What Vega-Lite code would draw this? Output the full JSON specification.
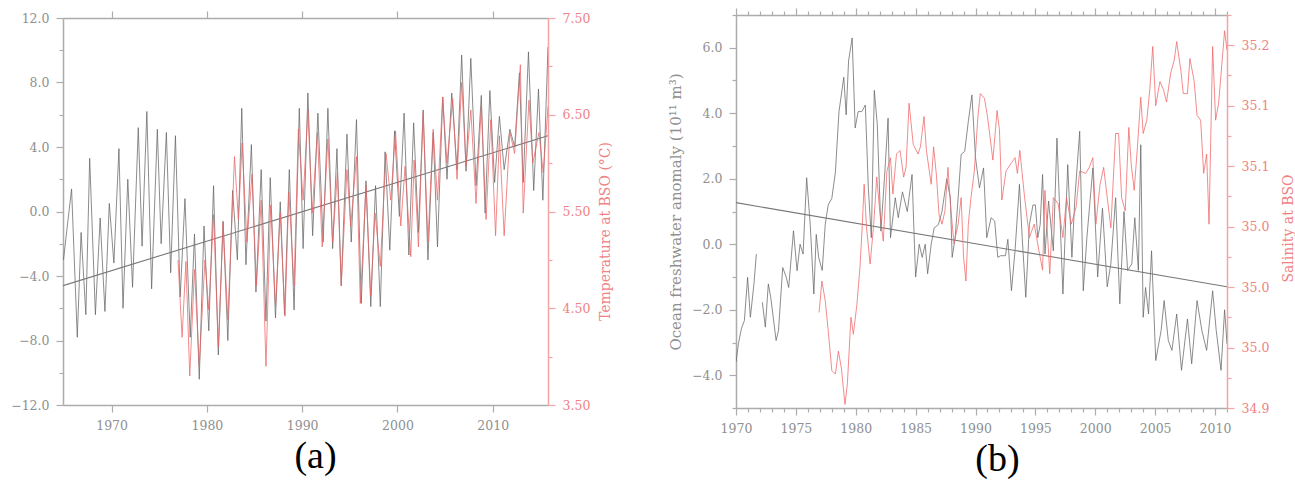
{
  "$schema": "https://vega.github.io/schema/vega-lite/v6.json",
  "background": "white",
  "padding": {"left": 10, "top": 7, "right": 0, "bottom": 0},
  "spacing": 188,
  "bounds": "flush",
  "center": true,
  "datasets": {
    "heat": [
      {"year":1964.95,"v":-3.0},{"year":1965.8,"v":1.4},{"year":1966.4,"v":-7.8},{"year":1966.8,"v":-1.3},{"year":1967.3,"v":-6.4},{"year":1967.7,"v":3.3},{"year":1968.3,"v":-6.4},{"year":1968.8,"v":-0.4},{"year":1969.3,"v":-6.2},{"year":1969.76,"v":0.5},{"year":1970.24,"v":-3.2},{"year":1970.77,"v":3.9},{"year":1971.2,"v":-6.0},{"year":1971.7,"v":2.0},{"year":1972.2,"v":-4.7},{"year":1972.8,"v":5.2},{"year":1973.2,"v":-2.15},{"year":1973.7,"v":6.2},{"year":1974.2,"v":-4.8},{"year":1974.8,"v":5.1},{"year":1975.2,"v":-2.0},{"year":1975.75,"v":4.9},{"year":1976.2,"v":-3.8},{"year":1976.7,"v":4.7},{"year":1977.2,"v":-5.3},{"year":1977.7,"v":0.8},{"year":1978.25,"v":-7.8},{"year":1978.7,"v":-1.4},{"year":1979.2,"v":-10.4},{"year":1979.7,"v":-0.9},{"year":1980.2,"v":-7.4},{"year":1980.7,"v":1.6},{"year":1981.2,"v":-8.9},{"year":1981.7,"v":-0.6},{"year":1982.2,"v":-8.0},{"year":1982.7,"v":1.3},{"year":1983.2,"v":-3.0},{"year":1983.66,"v":6.4},{"year":1984.1,"v":-3.3},{"year":1984.67,"v":4.15},{"year":1985.15,"v":-5.0},{"year":1985.7,"v":2.6},{"year":1986.2,"v":-6.8},{"year":1986.65,"v":2.1},{"year":1987.2,"v":-6.6},{"year":1987.7,"v":0.6},{"year":1988.15,"v":-6.4},{"year":1988.65,"v":2.6},{"year":1989.15,"v":-6.1},{"year":1989.7,"v":6.4},{"year":1990.1,"v":-2.3},{"year":1990.6,"v":7.35},{"year":1991.1,"v":-1.5},{"year":1991.65,"v":6.1},{"year":1992.2,"v":-1.9},{"year":1992.7,"v":6.4},{"year":1993.2,"v":-2.3},{"year":1993.65,"v":3.9},{"year":1994.1,"v":-4.6},{"year":1994.7,"v":4.8},{"year":1995.15,"v":-1.9},{"year":1995.7,"v":5.7},{"year":1996.2,"v":-5.7},{"year":1996.7,"v":1.9},{"year":1997.2,"v":-5.9},{"year":1997.7,"v":1.6},{"year":1998.2,"v":-5.9},{"year":1998.7,"v":3.7},{"year":1999.2,"v":-2.4},{"year":1999.7,"v":5.0},{"year":2000.2,"v":-0.3},{"year":2000.7,"v":6.1},{"year":2001.2,"v":-2.7},{"year":2001.7,"v":5.5},{"year":2002.2,"v":-1.3},{"year":2002.7,"v":6.3},{"year":2003.2,"v":-3.0},{"year":2003.75,"v":4.9},{"year":2004.2,"v":-2.2},{"year":2004.75,"v":7.1},{"year":2005.2,"v":2.0},{"year":2005.7,"v":7.35},{"year":2006.25,"v":2.6},{"year":2006.74,"v":9.7},{"year":2007.2,"v":2.5},{"year":2007.7,"v":9.5},{"year":2008.25,"v":1.6},{"year":2008.8,"v":7.2},{"year":2009.2,"v":-0.1},{"year":2009.7,"v":7.5},{"year":2010.2,"v":1.8},{"year":2010.7,"v":5.9},{"year":2011.2,"v":2.6},{"year":2011.8,"v":5.1},{"year":2012.3,"v":4.0},{"year":2012.8,"v":8.6},{"year":2013.2,"v":1.8},{"year":2013.75,"v":9.9},{"year":2014.3,"v":1.3},{"year":2014.8,"v":7.6},{"year":2015.26,"v":0.7},{"year":2015.8,"v":10.2}
    ],
    "heat_trend": [{"year":1964.9,"v":-4.6},{"year":2015.8,"v":4.7}],
    "temp": [
      {"year":1976.97,"t":5.0},{"year":1977.4,"t":4.2},{"year":1977.8,"t":4.983},{"year":1978.2,"t":3.8},{"year":1978.7,"t":4.9},{"year":1979.2,"t":3.9},{"year":1979.8,"t":5.0},{"year":1980.2,"t":4.483},{"year":1980.7,"t":5.467},{"year":1981.2,"t":4.1},{"year":1981.7,"t":5.383},{"year":1982.2,"t":4.383},{"year":1982.9,"t":6.067},{"year":1983.3,"t":5.417},{"year":1983.7,"t":6.208},{"year":1984.2,"t":5.183},{"year":1984.74,"t":5.883},{"year":1985.2,"t":4.733},{"year":1985.7,"t":5.617},{"year":1986.2,"t":3.9},{"year":1986.7,"t":5.567},{"year":1987.2,"t":4.517},{"year":1987.7,"t":5.483},{"year":1988.2,"t":4.417},{"year":1988.6,"t":5.7},{"year":1989.15,"t":4.733},{"year":1989.6,"t":6.35},{"year":1990.1,"t":5.617},{"year":1990.6,"t":6.55},{"year":1991.05,"t":5.483},{"year":1991.6,"t":6.317},{"year":1992.1,"t":5.133},{"year":1992.7,"t":6.25},{"year":1993.2,"t":5.183},{"year":1993.7,"t":5.9},{"year":1994.1,"t":4.733},{"year":1994.7,"t":5.933},{"year":1995.1,"t":5.35},{"year":1995.7,"t":6.067},{"year":1996.1,"t":4.55},{"year":1996.7,"t":5.767},{"year":1997.2,"t":4.625},{"year":1997.65,"t":5.483},{"year":1998.2,"t":4.933},{"year":1998.8,"t":6.1},{"year":1999.3,"t":5.617},{"year":1999.8,"t":6.333},{"year":2000.35,"t":5.35},{"year":2000.8,"t":5.967},{"year":2001.4,"t":5.033},{"year":2001.75,"t":6.033},{"year":2002.2,"t":5.133},{"year":2002.7,"t":6.517},{"year":2003.2,"t":5.183},{"year":2003.75,"t":6.35},{"year":2004.2,"t":5.617},{"year":2004.75,"t":6.683},{"year":2005.2,"t":6.0},{"year":2005.8,"t":6.667},{"year":2006.25,"t":5.833},{"year":2006.74,"t":6.833},{"year":2007.2,"t":5.967},{"year":2007.7,"t":6.55},{"year":2008.25,"t":5.583},{"year":2008.8,"t":6.583},{"year":2009.3,"t":5.417},{"year":2009.8,"t":6.45},{"year":2010.3,"t":5.25},{"year":2010.7,"t":6.283},{"year":2011.2,"t":5.25},{"year":2011.8,"t":6.317},{"year":2012.3,"t":6.1},{"year":2012.9,"t":7.017},{"year":2013.2,"t":5.483},{"year":2013.8,"t":6.65},{"year":2014.2,"t":6.0},{"year":2014.85,"t":6.317},{"year":2015.3,"t":5.9},{"year":2015.8,"t":6.583}
    ],
    "fw": [
      {"year":1970.0,"v":-3.6,"seg":1},{"year":1970.2,"v":-3.04,"seg":1},{"year":1970.45,"v":-2.58,"seg":1},{"year":1970.7,"v":-2.33,"seg":1},{"year":1970.97,"v":-1.01,"seg":1},{"year":1971.2,"v":-2.23,"seg":1},{"year":1971.5,"v":-1.21,"seg":1},{"year":1971.7,"v":-0.3,"seg":1},
      {"year":1972.2,"v":-1.77,"seg":2},{"year":1972.45,"v":-2.53,"seg":2},{"year":1972.7,"v":-1.21,"seg":2},{"year":1972.9,"v":-1.62,"seg":2},{"year":1973.35,"v":-2.94,"seg":2},{"year":1973.55,"v":-2.63,"seg":2},{"year":1973.9,"v":-0.71,"seg":2},{"year":1974.2,"v":-1.01,"seg":2},{"year":1974.4,"v":-1.32,"seg":2},{"year":1974.8,"v":0.41,"seg":2},{"year":1975.1,"v":-0.81,"seg":2},{"year":1975.35,"v":0.0,"seg":2},{"year":1975.6,"v":-0.3,"seg":2},{"year":1975.9,"v":2.03,"seg":2},{"year":1976.2,"v":0.6,"seg":2},{"year":1976.5,"v":-1.52,"seg":2},{"year":1976.7,"v":0.3,"seg":2},{"year":1976.9,"v":-0.4,"seg":2},{"year":1977.2,"v":-0.8,"seg":2},{"year":1977.45,"v":0.6,"seg":2},{"year":1977.7,"v":1.2,"seg":2},{"year":1978.0,"v":1.4,"seg":2},{"year":1978.3,"v":2.2,"seg":2},{"year":1978.6,"v":4.05,"seg":2},{"year":1979.0,"v":5.1,"seg":2},{"year":1979.2,"v":3.95,"seg":2},{"year":1979.4,"v":5.6,"seg":2},{"year":1979.7,"v":6.3,"seg":2},{"year":1979.95,"v":3.55,"seg":2},{"year":1980.2,"v":4.05,"seg":2},{"year":1980.5,"v":4.05,"seg":2},{"year":1980.8,"v":4.25,"seg":2},{"year":1981.05,"v":1.72,"seg":2},{"year":1981.3,"v":0.2,"seg":2},{"year":1981.55,"v":4.7,"seg":2},{"year":1981.8,"v":3.65,"seg":2},{"year":1982.1,"v":0.4,"seg":2},{"year":1982.4,"v":2.03,"seg":2},{"year":1982.7,"v":3.85,"seg":2},{"year":1982.9,"v":0.2,"seg":2},{"year":1983.3,"v":1.42,"seg":2},{"year":1983.55,"v":0.81,"seg":2},{"year":1983.9,"v":1.6,"seg":2},{"year":1984.3,"v":1.0,"seg":2},{"year":1984.7,"v":2.13,"seg":2},{"year":1984.9,"v":0.0,"seg":2},{"year":1985.0,"v":-1.0,"seg":2},{"year":1985.3,"v":0.0,"seg":2},{"year":1985.55,"v":-0.4,"seg":2},{"year":1985.8,"v":0.0,"seg":2},{"year":1986.0,"v":-0.9,"seg":2},{"year":1986.3,"v":0.0,"seg":2},{"year":1986.55,"v":0.5,"seg":2},{"year":1986.9,"v":0.6,"seg":2},{"year":1987.2,"v":1.0,"seg":2},{"year":1987.6,"v":2.0,"seg":2},{"year":1987.9,"v":1.42,"seg":2},{"year":1988.05,"v":-0.4,"seg":2},{"year":1988.3,"v":0.2,"seg":2},{"year":1988.55,"v":1.42,"seg":2},{"year":1988.8,"v":2.74,"seg":2},{"year":1989.1,"v":2.84,"seg":2},{"year":1989.4,"v":3.75,"seg":2},{"year":1989.7,"v":4.56,"seg":2},{"year":1990.0,"v":2.64,"seg":2},{"year":1990.33,"v":1.72,"seg":2},{"year":1990.67,"v":2.33,"seg":2},{"year":1990.94,"v":0.2,"seg":2},{"year":1991.3,"v":0.81,"seg":2},{"year":1991.6,"v":0.71,"seg":2},{"year":1991.86,"v":-0.4,"seg":2},{"year":1992.1,"v":-0.35,"seg":2},{"year":1992.5,"v":-0.35,"seg":2},{"year":1992.7,"v":0.15,"seg":2},{"year":1993.0,"v":-1.42,"seg":2},{"year":1993.3,"v":-0.2,"seg":2},{"year":1993.67,"v":1.83,"seg":2},{"year":1993.9,"v":0.2,"seg":2},{"year":1994.2,"v":-1.62,"seg":2},{"year":1994.5,"v":0.6,"seg":2},{"year":1994.8,"v":1.2,"seg":2},{"year":1995.0,"v":1.2,"seg":2},{"year":1995.2,"v":0.2,"seg":2},{"year":1995.4,"v":0.6,"seg":2},{"year":1995.6,"v":2.13,"seg":2},{"year":1995.8,"v":-0.3,"seg":2},{"year":1996.1,"v":1.32,"seg":2},{"year":1996.5,"v":-0.2,"seg":2},{"year":1996.8,"v":3.24,"seg":2},{"year":1997.3,"v":-1.52,"seg":2},{"year":1997.7,"v":2.43,"seg":2},{"year":1998.05,"v":-0.4,"seg":2},{"year":1998.3,"v":1.42,"seg":2},{"year":1998.7,"v":3.45,"seg":2},{"year":1999.0,"v":-1.42,"seg":2},{"year":1999.3,"v":0.2,"seg":2},{"year":1999.8,"v":2.33,"seg":2},{"year":2000.2,"v":-1.0,"seg":2},{"year":2000.6,"v":1.1,"seg":2},{"year":2001.0,"v":-1.3,"seg":2},{"year":2001.3,"v":-0.6,"seg":2},{"year":2001.7,"v":1.42,"seg":2},{"year":2002.05,"v":-1.82,"seg":2},{"year":2002.4,"v":1.0,"seg":2},{"year":2002.7,"v":-0.8,"seg":2},{"year":2003.05,"v":-0.6,"seg":2},{"year":2003.3,"v":0.81,"seg":2},{"year":2003.6,"v":-0.8,"seg":2},{"year":2003.8,"v":3.04,"seg":2},{"year":2004.0,"v":-2.23,"seg":2},{"year":2004.2,"v":-1.32,"seg":2},{"year":2004.45,"v":-2.13,"seg":2},{"year":2004.7,"v":-0.2,"seg":2},{"year":2005.05,"v":-3.55,"seg":2},{"year":2005.5,"v":-2.63,"seg":2},{"year":2005.75,"v":-1.72,"seg":2},{"year":2006.1,"v":-2.94,"seg":2},{"year":2006.4,"v":-3.24,"seg":2},{"year":2006.8,"v":-2.13,"seg":2},{"year":2007.2,"v":-3.85,"seg":2},{"year":2007.7,"v":-2.28,"seg":2},{"year":2008.05,"v":-3.65,"seg":2},{"year":2008.5,"v":-1.72,"seg":2},{"year":2008.9,"v":-2.63,"seg":2},{"year":2009.3,"v":-3.24,"seg":2},{"year":2009.8,"v":-1.42,"seg":2},{"year":2010.1,"v":-2.63,"seg":2},{"year":2010.5,"v":-3.85,"seg":2},{"year":2010.8,"v":-2.0,"seg":2},{"year":2011.0,"v":-3.04,"seg":2}
    ],
    "fw_trend": [{"year":1970,"v":1.27},{"year":2011,"v":-1.3}],
    "sal": [
      {"year":1976.94,"s":34.979},{"year":1977.17,"s":35.005},{"year":1977.45,"s":34.989},{"year":1977.7,"s":34.964},{"year":1978.0,"s":34.931},{"year":1978.3,"s":34.928},{"year":1978.55,"s":34.947},{"year":1978.8,"s":34.933},{"year":1979.1,"s":34.903},{"year":1979.3,"s":34.92},{"year":1979.6,"s":34.975},{"year":1979.8,"s":34.961},{"year":1980.1,"s":34.986},{"year":1980.35,"s":35.016},{"year":1980.55,"s":35.052},{"year":1980.7,"s":35.085},{"year":1980.9,"s":35.049},{"year":1981.2,"s":35.019},{"year":1981.5,"s":35.052},{"year":1981.75,"s":35.091},{"year":1982.0,"s":35.063},{"year":1982.3,"s":35.038},{"year":1982.6,"s":35.096},{"year":1982.9,"s":35.107},{"year":1983.1,"s":35.077},{"year":1983.4,"s":35.11},{"year":1983.7,"s":35.113},{"year":1984.0,"s":35.091},{"year":1984.2,"s":35.099},{"year":1984.45,"s":35.152},{"year":1984.8,"s":35.118},{"year":1985.2,"s":35.11},{"year":1985.4,"s":35.116},{"year":1985.7,"s":35.141},{"year":1985.9,"s":35.113},{"year":1986.3,"s":35.085},{"year":1986.5,"s":35.116},{"year":1986.75,"s":35.091},{"year":1986.95,"s":35.06},{"year":1987.2,"s":35.052},{"year":1987.45,"s":35.063},{"year":1987.7,"s":35.099},{"year":1987.9,"s":35.069},{"year":1988.2,"s":35.036},{"year":1988.55,"s":35.052},{"year":1988.8,"s":35.074},{"year":1989.0,"s":35.025},{"year":1989.2,"s":35.005},{"year":1989.4,"s":35.052},{"year":1989.6,"s":35.072},{"year":1989.9,"s":35.096},{"year":1990.2,"s":35.141},{"year":1990.4,"s":35.16},{"year":1990.75,"s":35.156},{"year":1991.0,"s":35.141},{"year":1991.45,"s":35.105},{"year":1991.8,"s":35.146},{"year":1992.0,"s":35.13},{"year":1992.2,"s":35.072},{"year":1992.55,"s":35.096},{"year":1992.95,"s":35.102},{"year":1993.3,"s":35.107},{"year":1993.5,"s":35.094},{"year":1993.7,"s":35.113},{"year":1994.1,"s":35.074},{"year":1994.5,"s":35.041},{"year":1994.9,"s":35.052},{"year":1995.3,"s":35.03},{"year":1995.6,"s":35.014},{"year":1995.8,"s":35.08},{"year":1996.2,"s":35.011},{"year":1996.5,"s":35.074},{"year":1996.9,"s":35.069},{"year":1997.3,"s":35.041},{"year":1997.6,"s":35.074},{"year":1998.0,"s":35.052},{"year":1998.4,"s":35.066},{"year":1998.7,"s":35.096},{"year":1999.2,"s":35.094},{"year":1999.5,"s":35.099},{"year":1999.8,"s":35.107},{"year":2000.05,"s":35.052},{"year":2000.4,"s":35.085},{"year":2000.7,"s":35.099},{"year":2001.0,"s":35.074},{"year":2001.3,"s":35.049},{"year":2001.7,"s":35.127},{"year":2001.95,"s":35.127},{"year":2002.2,"s":35.074},{"year":2002.5,"s":35.063},{"year":2002.8,"s":35.132},{"year":2003.0,"s":35.102},{"year":2003.25,"s":35.08},{"year":2003.5,"s":35.113},{"year":2003.8,"s":35.157},{"year":2004.0,"s":35.127},{"year":2004.3,"s":35.138},{"year":2004.55,"s":35.163},{"year":2004.8,"s":35.199},{"year":2005.05,"s":35.15},{"year":2005.4,"s":35.17},{"year":2005.7,"s":35.163},{"year":2005.95,"s":35.153},{"year":2006.3,"s":35.177},{"year":2006.6,"s":35.188},{"year":2006.8,"s":35.203},{"year":2007.15,"s":35.179},{"year":2007.35,"s":35.16},{"year":2007.7,"s":35.16},{"year":2007.9,"s":35.189},{"year":2008.25,"s":35.171},{"year":2008.5,"s":35.142},{"year":2008.8,"s":35.138},{"year":2009.05,"s":35.094},{"year":2009.3,"s":35.11},{"year":2009.5,"s":35.052},{"year":2009.8,"s":35.199},{"year":2010.05,"s":35.138},{"year":2010.3,"s":35.152},{"year":2010.55,"s":35.182},{"year":2010.8,"s":35.212},{"year":2011.0,"s":35.196}
    ]
  },
  "hconcat": [
    {
      "width": 485,
      "height": 387,
      "title": {"text": "(a)", "orient": "bottom", "font": "Liberation Serif", "fontSize": 38, "fontWeight": "normal", "color": "#000000", "anchor": "middle", "dx": 10, "offset": 6},
      "layer": [
        {
          "layer": [
            {
              "data": {"name": "heat"},
              "mark": {"type": "line", "color": "#666666", "strokeWidth": 0.75, "clip": true},
              "encoding": {
                "x": {"field": "year", "type": "quantitative", "scale": {"domain": [1964.9, 2015.8], "nice": false, "zero": false},
                  "axis": {"orient": "bottom", "values": [1970, 1980, 1990, 2000, 2010], "format": "d", "title": null, "tickSize": 7}},
                "y": {"field": "v", "type": "quantitative", "scale": {"domain": [-12, 12], "nice": false},
                  "axis": {"orient": "left", "title": null, "values": [-12, -10, -8, -6, -4, -2, 0, 2, 4, 6, 8, 10, 12],
                    "labelExpr": "datum.value % 4 === 0 ? format(datum.value, '.1f') : ''",
                    "tickSize": {"condition": {"test": "datum.value % 4 === 0", "value": 7}, "value": 4}}}
              }
            },
            {
              "data": {"name": "heat_trend"},
              "mark": {"type": "line", "color": "#777777", "strokeWidth": 1.1, "clip": true},
              "encoding": {
                "x": {"field": "year", "type": "quantitative", "scale": {"domain": [1964.9, 2015.8], "nice": false, "zero": false},
                  "axis": {"orient": "top", "values": [1970, 1980, 1990, 2000, 2010], "labels": false, "title": null, "tickSize": 7}},
                "y": {"field": "v", "type": "quantitative", "scale": {"domain": [-12, 12], "nice": false},
                  "axis": {"orient": "left", "title": null, "values": [-12, -10, -8, -6, -4, -2, 0, 2, 4, 6, 8, 10, 12],
                    "labelExpr": "datum.value % 4 === 0 ? format(datum.value, '.1f') : ''",
                    "tickSize": {"condition": {"test": "datum.value % 4 === 0", "value": 7}, "value": 4}}}
              }
            }
          ],
          "resolve": {"axis": {"x": "independent"}}
        },
        {
          "data": {"name": "temp"},
          "mark": {"type": "line", "color": "#ec6466", "strokeWidth": 0.75, "clip": true},
          "encoding": {
            "x": {"field": "year", "type": "quantitative", "scale": {"domain": [1964.9, 2015.8], "nice": false, "zero": false}, "axis": null},
            "y": {"field": "t", "type": "quantitative", "scale": {"domain": [3.5, 7.5], "nice": false, "zero": false},
              "axis": {"orient": "right", "title": "Temperature at BSO (°C)", "titleAngle": 270, "titleY": 213, "titleX": 57, "titleBaseline": "middle", "titleAlign": "center",
                "values": [3.5, 4, 4.5, 5, 5.5, 6, 6.5, 7, 7.5],
                "labelExpr": "(datum.value * 2) % 2 === 1 ? format(datum.value, '.2f') : ''",
                "tickSize": {"condition": {"test": "(datum.value * 2) % 2 === 1", "value": 7}, "value": 4},
                "domainColor": "#f4a4a4", "tickColor": "#f4a4a4", "labelColor": "#f08284", "titleColor": "#f08284"}}
          }
        }
      ],
      "resolve": {"scale": {"y": "independent"}, "axis": {"x": "independent"}}
    },
    {
      "width": 491,
      "height": 393,
      "title": {"text": "(b)", "orient": "bottom", "font": "Liberation Serif", "fontSize": 38, "fontWeight": "normal", "color": "#000000", "anchor": "middle", "dx": 16, "offset": 6},
      "layer": [
        {
          "layer": [
            {
              "data": {"name": "fw"},
              "mark": {"type": "line", "color": "#666666", "strokeWidth": 0.75, "clip": true},
              "encoding": {
                "x": {"field": "year", "type": "quantitative", "scale": {"domain": [1970, 2011], "nice": false, "zero": false},
                  "axis": {"orient": "bottom", "title": null,
                    "values": [1970,1971,1972,1973,1974,1975,1976,1977,1978,1979,1980,1981,1982,1983,1984,1985,1986,1987,1988,1989,1990,1991,1992,1993,1994,1995,1996,1997,1998,1999,2000,2001,2002,2003,2004,2005,2006,2007,2008,2009,2010,2011],
                    "labelExpr": "datum.value % 5 === 0 ? format(datum.value, 'd') : ''",
                    "tickSize": {"condition": {"test": "datum.value % 5 === 0", "value": 7}, "value": 4}}},
                "y": {"field": "v", "type": "quantitative", "scale": {"domain": [-5, 7], "nice": false},
                  "axis": {"orient": "left", "title": "Ocean freshwater anomaly (10¹¹ m³)", "titleFontSize": 15,
                    "values": [-5, -4, -3, -2, -1, 0, 1, 2, 3, 4, 5, 6, 7],
                    "labelExpr": "datum.value % 2 === 0 ? format(datum.value, '.1f') : ''",
                    "tickSize": {"condition": {"test": "datum.value % 2 === 0", "value": 7}, "value": 4}}},
                "detail": {"field": "seg", "type": "nominal"}
              }
            },
            {
              "data": {"name": "fw_trend"},
              "mark": {"type": "line", "color": "#777777", "strokeWidth": 1.1, "clip": true},
              "encoding": {
                "x": {"field": "year", "type": "quantitative", "scale": {"domain": [1970, 2011], "nice": false, "zero": false},
                  "axis": {"orient": "top", "title": null, "labels": false,
                    "values": [1970,1971,1972,1973,1974,1975,1976,1977,1978,1979,1980,1981,1982,1983,1984,1985,1986,1987,1988,1989,1990,1991,1992,1993,1994,1995,1996,1997,1998,1999,2000,2001,2002,2003,2004,2005,2006,2007,2008,2009,2010,2011],
                    "tickSize": {"condition": {"test": "datum.value % 5 === 0", "value": 7}, "value": 4}}},
                "y": {"field": "v", "type": "quantitative", "scale": {"domain": [-5, 7], "nice": false},
                  "axis": {"orient": "left", "title": "Ocean freshwater anomaly (10¹¹ m³)", "titleFontSize": 15,
                    "values": [-5, -4, -3, -2, -1, 0, 1, 2, 3, 4, 5, 6, 7],
                    "labelExpr": "datum.value % 2 === 0 ? format(datum.value, '.1f') : ''",
                    "tickSize": {"condition": {"test": "datum.value % 2 === 0", "value": 7}, "value": 4}}}
              }
            }
          ],
          "resolve": {"axis": {"x": "independent"}}
        },
        {
          "data": {"name": "sal"},
          "mark": {"type": "line", "color": "#f06466", "strokeWidth": 0.75, "clip": true},
          "encoding": {
            "x": {"field": "year", "type": "quantitative", "scale": {"domain": [1970, 2011], "nice": false, "zero": false}, "axis": null},
            "y": {"field": "s", "type": "quantitative", "scale": {"domain": [34.9, 35.225], "nice": false, "zero": false},
              "axis": {"orient": "right", "title": "Salinity at BSO", "titleAngle": 270, "titleY": 213, "titleX": 61, "titleBaseline": "middle", "titleAlign": "center",
                "values": [34.9, 34.925, 34.95, 34.975, 35, 35.025, 35.05, 35.075, 35.1, 35.125, 35.15, 35.175, 35.2, 35.225],
                "labelExpr": "round(datum.value * 1000) % 50 === 0 ? format(datum.value, '.1f') : ''",
                "tickSize": {"condition": {"test": "round(datum.value * 1000) % 50 === 0", "value": 7}, "value": 4},
                "domainColor": "#f4a4a4", "tickColor": "#f4a4a4", "labelColor": "#f08284", "titleColor": "#f08284"}}
          }
        }
      ],
      "resolve": {"scale": {"y": "independent"}, "axis": {"x": "independent"}}
    }
  ],
  "config": {
    "view": {"stroke": null},
    "axis": {
      "grid": false,
      "labelFont": "DejaVu Serif",
      "labelFontSize": 12.5,
      "labelColor": "#909090",
      "labelPadding": 7,
      "labelFlush": false,
      "labelOverlap": false,
      "domainColor": "#acacac",
      "domainWidth": 1.5,
      "tickColor": "#acacac",
      "tickWidth": 1.2,
      "titleFont": "DejaVu Serif",
      "titleFontSize": 14,
      "titleFontWeight": "normal",
      "titleColor": "#909090",
      "titlePadding": 8
    }
  }
}
